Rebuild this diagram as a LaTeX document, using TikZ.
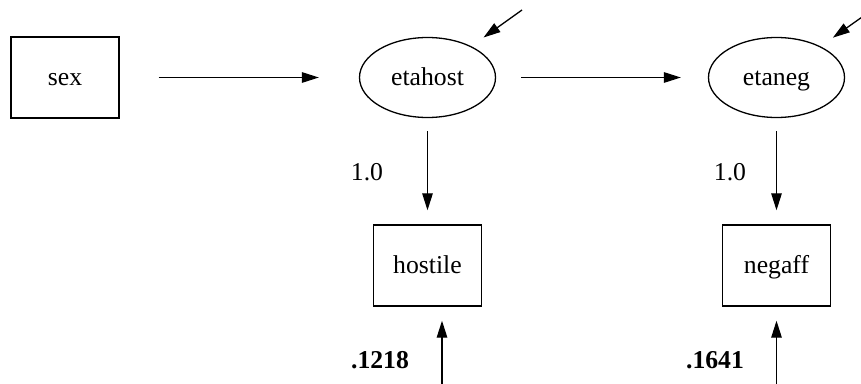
\documentclass[tikz,border=0pt]{standalone}
\usepackage{fontspec}
\setmainfont{Liberation Serif}
\usetikzlibrary{arrows.meta,shapes.geometric}
\begin{document}
\begin{tikzpicture}[x=1pt,y=-1pt,
  every node/.style={font=\fontsize{25.7}{30}\selectfont, inner sep=0pt},
  obs/.style={draw, line width=1.4pt, rectangle, minimum width=108pt, minimum height=81pt,
    text height=20pt, text depth=4pt},
  lat/.style={draw, line width=1.3pt, ellipse, minimum width=136pt, minimum height=80pt,
    text height=20pt, text depth=4pt},
  arr/.style={line width=1.3pt, -{Triangle[length=17pt,width=10.5pt]}},
  lbl/.style={anchor=center}]
\useasboundingbox (0,0) rectangle (861,383);
\clip (0,0) rectangle (861,383);

% variables
\node[obs] (sex) at (65,77.5) {sex};
\node[lat] (etahost) at (427.5,77.5) {etahost};
\node[lat] (etaneg) at (776.5,77.5) {etaneg};
\node[obs] (hostile) at (427.5,265.5) {hostile};
\node[obs] (negaff) at (776.5,265.5) {negaff};

% structural paths
\draw[arr, shorten <=39pt, shorten >=40pt] (sex) -- (etahost);
\draw[arr, shorten <=25pt, shorten >=27pt] (etahost) -- (etaneg);

% loadings
\draw[arr, shorten <=13pt, shorten >=14pt] (etahost) -- (hostile);
\draw[arr, shorten <=13pt, shorten >=14pt] (etaneg) -- (negaff);
\node[lbl] (l1) at (367,172) {1.0};
\node[lbl] (l2) at (730,172) {1.0};

% disturbances
\coordinate (dh) at (522,10);
\coordinate (dn) at (872,10);
\draw[arr, shorten >=15pt] (dh) -- (etahost);
\draw[arr, shorten >=15pt] (dn) -- (etaneg);

% measurement errors
\coordinate (eh) at (442,390);
\coordinate (en) at (776.5,390);
\draw[arr, shorten >=14pt] (eh) -- (eh |- hostile.south);
\draw[arr, shorten >=14pt] (en) -- (negaff);
\node[lbl] (v1) at (380,360) {\bfseries .1218};
\node[lbl] (v2) at (715,360) {\bfseries .1641};
\end{tikzpicture}
\end{document}
